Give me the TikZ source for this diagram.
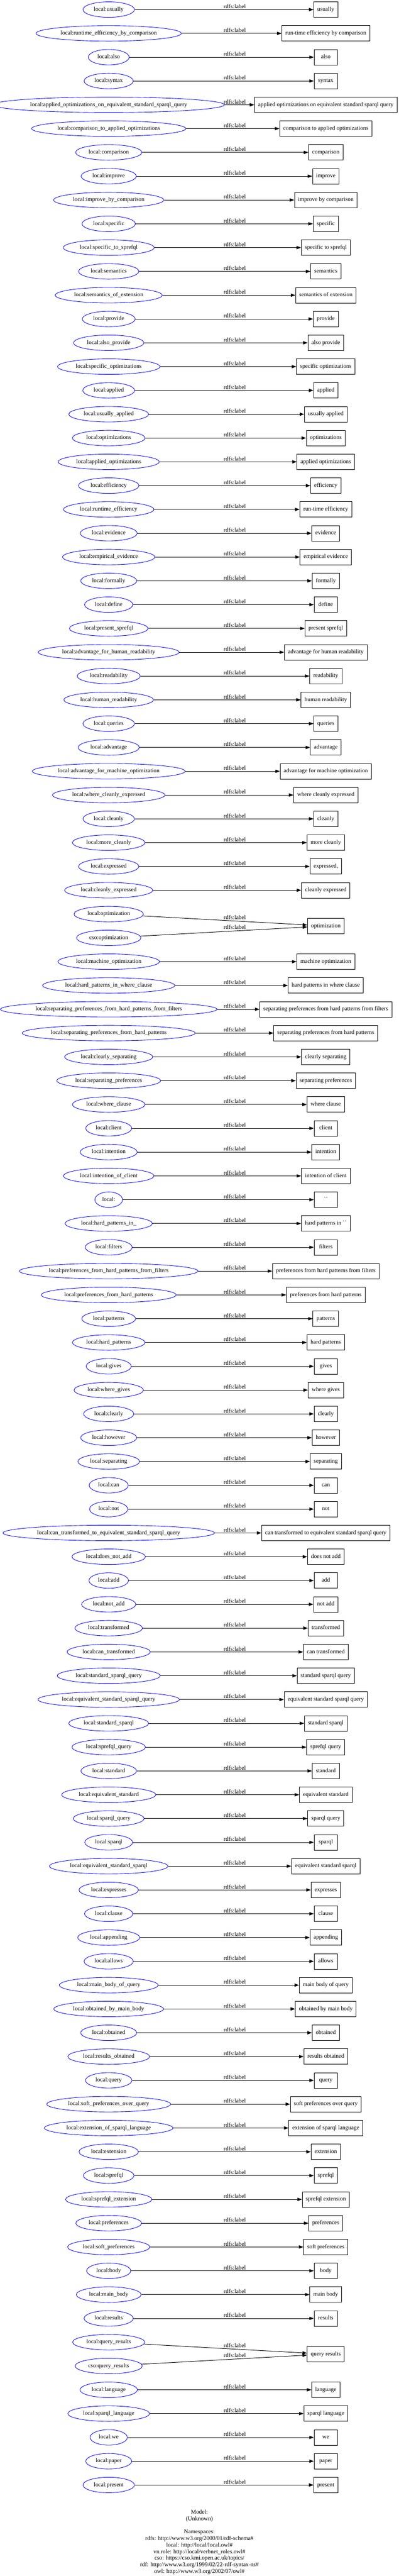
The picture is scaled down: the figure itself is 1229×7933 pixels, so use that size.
\documentclass[tikz,border=0pt]{standalone}
\usepackage{fontspec}
\setmainfont{Liberation Serif}
\usetikzlibrary{arrows.meta,shapes.geometric}
\newlength\ewid
\newcommand\nfont{\fontsize{18}{21.6}\selectfont}
\definecolor{eblue}{RGB}{0,0,255}
\tikzset{
  ent/.style={ellipse, draw=eblue, line width=1.4pt, minimum width=72.3pt, minimum height=47.7pt,
    inner ysep=0pt, text height=12.6pt, text depth=3.8pt, font=\nfont},
  lit/.style={rectangle, draw=black, line width=1.4pt, minimum width=72.3pt, minimum height=47.7pt,
    inner xsep=11pt, inner ysep=0pt, text height=12.6pt, text depth=3.8pt, font=\nfont},
  rel/.style={draw=black, line width=1.5pt, -{Triangle[length=14pt,width=10pt]}},
  rlab/.style={inner sep=0pt, font=\nfont},
  foot/.style={inner sep=0pt, anchor=base, font=\nfont},
}
\newcommand\ERow[3]{%
  \pgfmathsetmacro\yy{-(29.5+73.3*#1)}%
  \settowidth\ewid{\nfont #2}%
  \pgfmathsetmacro\xs{(0.91924*(\ewid+22)-\ewid)/2}%
  \node[ent, inner xsep=\xs pt] (e#1) at (335,\yy) {#2};
  \node[lit] (b#1) at (1004,\yy) {#3};
  \draw[rel] (e#1) -- (b#1);
  \node[rlab] (l#1) at (723.7,\yy+9.8) {rdfs:label};
}
\newcommand\PairRow[4]{%
  \pgfmathsetmacro\ya{-(29.5+73.3*#1)}%
  \pgfmathsetmacro\yb{\ya-73.3}%
  \pgfmathsetmacro\ym{(\ya+\yb)/2}%
  \settowidth\ewid{\nfont #2}%
  \pgfmathsetmacro\xs{(0.91924*(\ewid+22)-\ewid)/2}%
  \node[ent, inner xsep=\xs pt] (e#1a) at (335,\ya) {#2};
  \settowidth\ewid{\nfont #3}%
  \pgfmathsetmacro\xs{(0.91924*(\ewid+22)-\ewid)/2}%
  \node[ent, inner xsep=\xs pt] (e#1b) at (335,\yb) {#3};
  \node[lit] (b#1) at (1004,\ym) {#4};
  \draw[rel] (e#1a) -- (b#1);
  \draw[rel] (e#1b) -- (b#1);
  \pgfmathsetmacro\la{\ya+(\ym-\ya)*0.581+11}%
  \pgfmathsetmacro\lb{\yb+(\ym-\yb)*0.581+11}%
  \node[rlab] (l#1a) at (723.7,\la) {rdfs:label};
  \node[rlab] (l#1b) at (723.7,\lb) {rdfs:label};
}
\begin{document}
\begin{tikzpicture}[x=1pt,y=1pt]
\fill[white] (0,0) rectangle (1229,-7933);
\useasboundingbox (0,0) rectangle (1229,-7933);
\ERow{0}{local:usually}{usually}
\ERow{1}{local:runtime\_efficiency\_by\_comparison}{run-time efficiency by comparison}
\ERow{2}{local:also}{also}
\ERow{3}{local:syntax}{syntax}
\ERow{4}{local:applied\_optimizations\_on\_equivalent\_standard\_sparql\_query}{applied optimizations on equivalent standard sparql query}
\ERow{5}{local:comparison\_to\_applied\_optimizations}{comparison to applied optimizations}
\ERow{6}{local:comparison}{comparison}
\ERow{7}{local:improve}{improve}
\ERow{8}{local:improve\_by\_comparison}{improve by comparison}
\ERow{9}{local:specific}{specific}
\ERow{10}{local:specific\_to\_sprefql}{specific to sprefql}
\ERow{11}{local:semantics}{semantics}
\ERow{12}{local:semantics\_of\_extension}{semantics of extension}
\ERow{13}{local:provide}{provide}
\ERow{14}{local:also\_provide}{also provide}
\ERow{15}{local:specific\_optimizations}{specific optimizations}
\ERow{16}{local:applied}{applied}
\ERow{17}{local:usually\_applied}{usually applied}
\ERow{18}{local:optimizations}{optimizations}
\ERow{19}{local:applied\_optimizations}{applied optimizations}
\ERow{20}{local:efficiency}{efficiency}
\ERow{21}{local:runtime\_efficiency}{run-time efficiency}
\ERow{22}{local:evidence}{evidence}
\ERow{23}{local:empirical\_evidence}{empirical evidence}
\ERow{24}{local:formally}{formally}
\ERow{25}{local:define}{define}
\ERow{26}{local:present\_sprefql}{present sprefql}
\ERow{27}{local:advantage\_for\_human\_readability}{advantage for human readability}
\ERow{28}{local:readability}{readability}
\ERow{29}{local:human\_readability}{human readability}
\ERow{30}{local:queries}{queries}
\ERow{31}{local:advantage}{advantage}
\ERow{32}{local:advantage\_for\_machine\_optimization}{advantage for machine optimization}
\ERow{33}{local:where\_cleanly\_expressed}{where cleanly expressed}
\ERow{34}{local:cleanly}{cleanly}
\ERow{35}{local:more\_cleanly}{more cleanly}
\ERow{36}{local:expressed}{expressed,}
\ERow{37}{local:cleanly\_expressed}{cleanly expressed}
\PairRow{38}{local:optimization}{cso:optimization}{optimization}
\ERow{40}{local:machine\_optimization}{machine optimization}
\ERow{41}{local:hard\_patterns\_in\_where\_clause}{hard patterns in where clause}
\ERow{42}{local:separating\_preferences\_from\_hard\_patterns\_from\_filters}{separating preferences from hard patterns from filters}
\ERow{43}{local:separating\_preferences\_from\_hard\_patterns}{separating preferences from hard patterns}
\ERow{44}{local:clearly\_separating}{clearly separating}
\ERow{45}{local:separating\_preferences}{separating preferences}
\ERow{46}{local:where\_clause}{where clause}
\ERow{47}{local:client}{client}
\ERow{48}{local:intention}{intention}
\ERow{49}{local:intention\_of\_client}{intention of client}
\ERow{50}{local:}{\textasciigrave\textasciigrave}
\ERow{51}{local:hard\_patterns\_in\_}{hard patterns in \textasciigrave\textasciigrave}
\ERow{52}{local:filters}{filters}
\ERow{53}{local:preferences\_from\_hard\_patterns\_from\_filters}{preferences from hard patterns from filters}
\ERow{54}{local:preferences\_from\_hard\_patterns}{preferences from hard patterns}
\ERow{55}{local:patterns}{patterns}
\ERow{56}{local:hard\_patterns}{hard patterns}
\ERow{57}{local:gives}{gives}
\ERow{58}{local:where\_gives}{where gives}
\ERow{59}{local:clearly}{clearly}
\ERow{60}{local:however}{however}
\ERow{61}{local:separating}{separating}
\ERow{62}{local:can}{can}
\ERow{63}{local:not}{not}
\ERow{64}{local:can\_transformed\_to\_equivalent\_standard\_sparql\_query}{can transformed to equivalent standard sparql query}
\ERow{65}{local:does\_not\_add}{does not add}
\ERow{66}{local:add}{add}
\ERow{67}{local:not\_add}{not add}
\ERow{68}{local:transformed}{transformed}
\ERow{69}{local:can\_transformed}{can transformed}
\ERow{70}{local:standard\_sparql\_query}{standard sparql query}
\ERow{71}{local:equivalent\_standard\_sparql\_query}{equivalent standard sparql query}
\ERow{72}{local:standard\_sparql}{standard sparql}
\ERow{73}{local:sprefql\_query}{sprefql query}
\ERow{74}{local:standard}{standard}
\ERow{75}{local:equivalent\_standard}{equivalent standard}
\ERow{76}{local:sparql\_query}{sparql query}
\ERow{77}{local:sparql}{sparql}
\ERow{78}{local:equivalent\_standard\_sparql}{equivalent standard sparql}
\ERow{79}{local:expresses}{expresses}
\ERow{80}{local:clause}{clause}
\ERow{81}{local:appending}{appending}
\ERow{82}{local:allows}{allows}
\ERow{83}{local:main\_body\_of\_query}{main body of query}
\ERow{84}{local:obtained\_by\_main\_body}{obtained by main body}
\ERow{85}{local:obtained}{obtained}
\ERow{86}{local:results\_obtained}{results obtained}
\ERow{87}{local:query}{query}
\ERow{88}{local:soft\_preferences\_over\_query}{soft preferences over query}
\ERow{89}{local:extension\_of\_sparql\_language}{extension of sparql language}
\ERow{90}{local:extension}{extension}
\ERow{91}{local:sprefql}{sprefql}
\ERow{92}{local:sprefql\_extension}{sprefql extension}
\ERow{93}{local:preferences}{preferences}
\ERow{94}{local:soft\_preferences}{soft preferences}
\ERow{95}{local:body}{body}
\ERow{96}{local:main\_body}{main body}
\ERow{97}{local:results}{results}
\PairRow{98}{local:query\_results}{cso:query\_results}{query results}
\ERow{100}{local:language}{language}
\ERow{101}{local:sparql\_language}{sparql language}
\ERow{102}{local:we}{we}
\ERow{103}{local:paper}{paper}
\ERow{104}{local:present}{present}
\node[foot] (f0) at (614.5,-7741.4) {Model:};
\node[foot] (f1) at (614.5,-7761.7) {(Unknown)};
\node[foot] (f3) at (614.5,-7802.3) {Namespaces:};
\node[foot] (f4) at (614.5,-7822.6) {rdfs: http://www.w3.org/2000/01/rdf-schema\#};
\node[foot] (f5) at (614.5,-7842.9) {local: http://local/local.owl\#};
\node[foot] (f6) at (614.5,-7863.2) {vn.role: http://local/verbnet\_roles.owl\#};
\node[foot] (f7) at (614.5,-7883.5) {cso: https://cso.kmi.open.ac.uk/topics/};
\node[foot] (f8) at (614.5,-7903.8) {rdf: http://www.w3.org/1999/02/22-rdf-syntax-ns\#};
\node[foot] (f9) at (614.5,-7924.1) {owl: http://www.w3.org/2002/07/owl\#};
\end{tikzpicture}
\end{document}
